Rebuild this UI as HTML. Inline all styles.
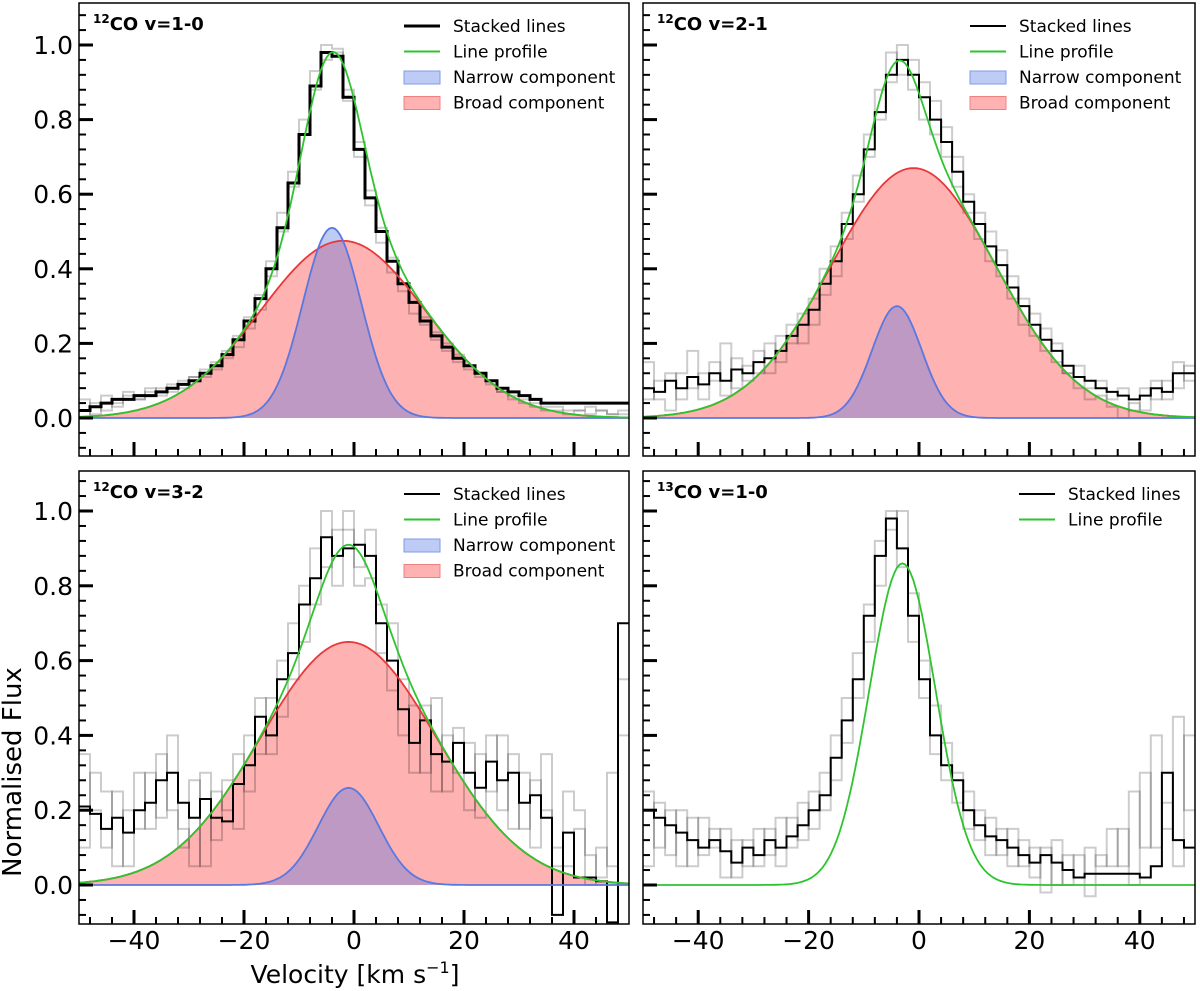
<!DOCTYPE html>
<html><head><meta charset="utf-8">
<style>
html,body{margin:0;padding:0;background:#fff;}
svg{display:block;font-family:"DejaVu Sans","Liberation Sans",sans-serif;}
</style></head>
<body>
<svg id="fig" width="1200" height="991" viewBox="0 0 1200 991" xmlns="http://www.w3.org/2000/svg"></svg>
<script>
const binCenters=[-49,-47,-45,-43,-41,-39,-37,-35,-33,-31,-29,-27,-25,-23,-21,-19,-17,-15,-13,-11,-9,-7,-5,-3,-1,1,3,5,7,9,11,13,15,17,19,21,23,25,27,29,31,33,35,37,39,41,43,45,47,49];
const xTicks=[-40,-20,0,20,40];
const yTicks=[0.0,0.2,0.4,0.6,0.8,1.0];
const stack1=[0.02,0.03,0.04,0.05,0.05,0.06,0.06,0.07,0.08,0.09,0.10,0.12,0.14,0.17,0.21,0.26,0.32,0.40,0.51,0.63,0.76,0.89,0.98,0.97,0.86,0.72,0.59,0.50,0.42,0.36,0.31,0.26,0.22,0.19,0.16,0.14,0.12,0.10,0.08,0.07,0.06,0.05,0.04,0.04,0.04,0.04,0.04,0.04,0.04,0.04];
const grey1a=[0.05,0.01,0.06,0.03,0.07,0.05,0.08,0.06,0.09,0.10,0.11,0.13,0.15,0.18,0.22,0.27,0.33,0.42,0.55,0.66,0.80,0.93,1.00,0.99,0.88,0.74,0.61,0.51,0.43,0.36,0.31,0.27,0.23,0.20,0.17,0.14,0.12,0.09,0.07,0.05,0.04,0.03,0.02,0.02,0.01,0.02,0.01,0.02,0.01,0.01];
const grey1b=[0.00,0.04,0.02,0.04,0.06,0.05,0.07,0.08,0.07,0.08,0.11,0.11,0.13,0.16,0.19,0.24,0.29,0.38,0.50,0.62,0.76,0.88,0.96,0.98,0.85,0.70,0.57,0.47,0.39,0.34,0.28,0.25,0.21,0.18,0.15,0.13,0.11,0.10,0.07,0.06,0.05,0.04,0.03,0.03,0.02,0.02,0.03,0.02,0.01,0.02];
const stack2=[0.08,0.07,0.10,0.08,0.11,0.09,0.12,0.10,0.13,0.12,0.15,0.16,0.18,0.22,0.25,0.29,0.36,0.42,0.52,0.60,0.72,0.82,0.92,0.96,0.92,0.86,0.80,0.74,0.66,0.58,0.52,0.46,0.41,0.35,0.30,0.25,0.21,0.18,0.14,0.11,0.10,0.08,0.07,0.06,0.05,0.06,0.08,0.07,0.12,0.12];
const grey2a=[0.15,0.05,0.02,0.12,0.18,0.05,0.10,0.20,0.08,0.14,0.18,0.12,0.22,0.25,0.20,0.32,0.40,0.38,0.55,0.65,0.70,0.88,0.98,0.92,0.96,0.80,0.85,0.70,0.62,0.60,0.48,0.50,0.38,0.38,0.25,0.28,0.18,0.15,0.12,0.08,0.05,0.06,0.03,0.00,0.04,0.02,0.10,0.05,0.15,0.10];
const grey2b=[0.05,0.10,0.12,0.05,0.08,0.12,0.15,0.06,0.16,0.10,0.12,0.20,0.15,0.20,0.28,0.25,0.33,0.46,0.48,0.58,0.76,0.80,0.90,1.00,0.88,0.90,0.76,0.78,0.70,0.55,0.55,0.42,0.45,0.32,0.32,0.22,0.24,0.20,0.12,0.14,0.08,0.10,0.05,0.08,0.02,0.08,0.05,0.10,0.08,0.14];
const stack3=[0.21,0.19,0.15,0.18,0.14,0.20,0.22,0.28,0.30,0.22,0.18,0.23,0.18,0.17,0.27,0.32,0.45,0.40,0.55,0.62,0.75,0.82,0.93,0.88,0.90,0.91,0.88,0.70,0.60,0.47,0.38,0.44,0.35,0.33,0.38,0.30,0.26,0.33,0.28,0.30,0.22,0.24,0.18,-0.08,0.14,0.02,0.02,0.01,-0.10,0.70];
const grey3a=[0.35,0.20,0.10,0.25,0.05,0.30,0.15,0.35,0.20,0.10,0.28,0.05,0.25,0.20,0.35,0.25,0.50,0.35,0.60,0.55,0.80,0.75,1.00,0.80,0.95,0.85,0.95,0.62,0.70,0.40,0.48,0.30,0.50,0.25,0.42,0.20,0.35,0.25,0.40,0.15,0.30,0.10,0.35,0.05,0.25,0.20,0.00,0.10,0.05,0.40];
const grey3b=[0.10,0.30,0.25,0.05,0.20,0.15,0.30,0.18,0.40,0.15,0.05,0.30,0.12,0.28,0.15,0.40,0.35,0.50,0.45,0.70,0.65,0.90,0.85,0.95,1.00,0.80,0.82,0.75,0.52,0.55,0.30,0.48,0.25,0.40,0.30,0.38,0.18,0.40,0.20,0.35,0.15,0.28,0.20,0.10,0.05,0.15,0.08,0.02,0.30,0.55];
const stack4=[0.20,0.18,0.16,0.14,0.12,0.10,0.12,0.09,0.06,0.10,0.08,0.12,0.10,0.13,0.16,0.20,0.24,0.34,0.44,0.55,0.72,0.88,0.98,0.90,0.72,0.55,0.40,0.32,0.28,0.20,0.16,0.13,0.12,0.10,0.08,0.06,0.08,0.06,0.04,0.02,0.03,0.03,0.03,0.03,0.03,0.02,0.05,0.30,0.12,0.10];
const grey4a=[0.25,0.10,0.20,0.05,0.18,0.08,0.15,0.02,0.12,0.05,0.15,0.08,0.18,0.10,0.22,0.15,0.30,0.28,0.50,0.50,0.75,0.80,1.00,0.85,0.78,0.50,0.48,0.28,0.30,0.15,0.20,0.08,0.15,0.05,0.12,0.02,0.10,0.00,0.08,0.02,0.10,0.05,0.15,0.05,0.25,0.10,0.40,0.15,0.45,0.20];
const grey4b=[0.05,0.22,0.08,0.20,0.05,0.18,0.10,0.15,0.02,0.12,0.05,0.15,0.05,0.18,0.12,0.25,0.20,0.40,0.38,0.62,0.65,0.92,0.95,1.00,0.65,0.60,0.35,0.38,0.22,0.25,0.12,0.18,0.08,0.15,0.05,0.10,-0.02,0.12,0.00,0.08,-0.03,0.08,0.05,0.15,0.00,0.30,0.10,0.22,0.05,0.40];
// Gaussian fit parameters: [amplitude, centre, sigma]
const narrow1=[0.51,-4,5.3], broad1=[0.475,-2,15];
const narrow2=[0.30,-4,4.5], broad2=[0.67,-1,15];
const narrow3=[0.26,-1,5.5], broad3=[0.65,-1,16];
const profile4=[0.86,-3,6.0];

const NS="http://www.w3.org/2000/svg";
const svg=document.getElementById('fig');
function mk(tag,attrs,parent){const e=document.createElementNS(NS,tag);for(const k in attrs)e.setAttribute(k,attrs[k]);(parent||svg).appendChild(e);return e;}
function gauss(p,v){return p[0]*Math.exp(-(v-p[1])*(v-p[1])/(2*p[2]*p[2]));}

const panels=[
 {x0:79,x1:629,y0:3,y1:456,yz:418,yo:45,title:"12",tv:"v=1-0",stack:stack1,greys:[grey1a,grey1b],narrow:narrow1,broad:broad1,lw:3,legend:4,lx:404,ly:26,xlab:false,ylab:true,id:"top-left"},
 {x0:643,x1:1195,y0:3,y1:456,yz:418,yo:45,title:"12",tv:"v=2-1",stack:stack2,greys:[grey2a,grey2b],narrow:narrow2,broad:broad2,lw:2,legend:4,lx:970,ly:26,xlab:false,ylab:false,id:"top-right"},
 {x0:79,x1:629,y0:471,y1:924,yz:885,yo:511,title:"12",tv:"v=3-2",stack:stack3,greys:[grey3a,grey3b],narrow:narrow3,broad:broad3,lw:2,legend:4,lx:404,ly:494,xlab:true,ylab:true,id:"bottom-left"},
 {x0:643,x1:1195,y0:471,y1:924,yz:885,yo:511,title:"13",tv:"v=1-0",stack:stack4,greys:[grey4a,grey4b],profile:profile4,lw:2,legend:2,lx:1019,ly:494,xlab:true,ylab:false,id:"bottom-right"}
];

panels.forEach(P=>{
 const g=mk('g',{});
 
 
 const X=v=>P.x0+(v+50)/100*(P.x1-P.x0);
 const Y=f=>P.yz-f*(P.yz-P.yo);
 const cid='clip-'+P.id;
 const cp=mk('clipPath',{id:cid},g); mk('rect',{x:P.x0,y:P.y0,width:P.x1-P.x0,height:P.y1-P.y0},cp);
 const plot=mk('g',{'clip-path':'url(#'+cid+')'},g);
 function curve(fn){let d='';for(let v=-50;v<=50.01;v+=0.5){d+=(d?'L':'M')+X(v).toFixed(1)+','+Y(fn(v)).toFixed(1);}return d;}
 function fillc(fn){return curve(fn)+'L'+X(50)+','+Y(0)+'L'+X(-50)+','+Y(0)+'Z';}
 if(P.broad){
  const b=mk('path',{d:fillc(v=>gauss(P.broad,v)),fill:'rgba(255,0,0,0.3)',stroke:'none'},plot);
  
  
  const n=mk('path',{d:fillc(v=>gauss(P.narrow,v)),fill:'rgba(65,105,225,0.35)',stroke:'none'},plot);
  
  
 }
 function step(arr){let d='';arr.forEach((f,i)=>{const a=X(binCenters[i]-1),b=X(binCenters[i]+1);d+=(i?'L':'M')+a.toFixed(1)+','+Y(f).toFixed(1)+'L'+b.toFixed(1)+','+Y(f).toFixed(1);});return d;}
 P.greys.forEach(arr=>{
  const e=mk('path',{d:step(arr),fill:'none',stroke:'rgba(0,0,0,0.2)','stroke-width':2},plot);
  
  
 });
 const s=mk('path',{d:step(P.stack),fill:'none',stroke:'#000','stroke-width':P.lw},plot);
 
 
 if(P.broad){
  const be=mk('path',{d:curve(v=>gauss(P.broad,v)),fill:'none',stroke:'#e8383a','stroke-width':1.8},plot);
  
  
  const ne=mk('path',{d:curve(v=>gauss(P.narrow,v)),fill:'none',stroke:'#5a78e0','stroke-width':1.8},plot);
  
  
  const lp=mk('path',{d:curve(v=>gauss(P.broad,v)+gauss(P.narrow,v)),fill:'none',stroke:'#2fc42f','stroke-width':1.8},plot);
  
  
 } else {
  const lp=mk('path',{d:curve(v=>gauss(P.profile,v)),fill:'none',stroke:'#2fc42f','stroke-width':1.8},plot);
  
  
 }
 for(let v=-48;v<=48;v+=4){const maj=xTicks.includes(v);mk('line',{x1:X(v),x2:X(v),y1:P.y1,y2:P.y1-(maj?14:7),stroke:'#000','stroke-width':maj?3:2},g);}
 for(let f=-0.08;f<=1.09;f+=0.04){const r=Math.round(f*100)/100;const maj=yTicks.some(t=>Math.abs(t-r)<1e-6);mk('line',{x1:P.x0,x2:P.x0+(maj?14:7),y1:Y(r),y2:Y(r),stroke:'#000','stroke-width':maj?3:2},g);}
 const fr=mk('rect',{x:P.x0,y:P.y0,width:P.x1-P.x0,height:P.y1-P.y0,fill:'none',stroke:'#000','stroke-width':1.5},g);
 
 
 if(P.xlab){xTicks.forEach(v=>{const t=mk('text',{x:X(v),y:P.y1+25,'text-anchor':'middle','font-size':25},g);t.textContent=(v<0?'\u2212':'')+Math.abs(v);});}
 if(P.ylab){yTicks.forEach(f=>{const t=mk('text',{x:P.x0-6,y:Y(f)+9,'text-anchor':'end','font-size':25},g);t.textContent=f.toFixed(1);});}
 const tt=mk('text',{x:P.x0+14,y:P.y0+27,'font-size':18,'font-weight':'bold'},g);
 
 
 const sup=mk('tspan',{'font-size':12,dy:-7},tt);sup.textContent=P.title;
 const rest=mk('tspan',{dy:7},tt);rest.textContent='CO '+P.tv;
 const labels=['Stacked lines','Line profile','Narrow component','Broad component'];
 for(let i=0;i<P.legend;i++){
  const y=P.ly+i*25.5;
  const lg=mk('g',{},g);
  
  
  if(i==0) mk('line',{x1:P.lx,x2:P.lx+36,y1:y,y2:y,stroke:'#000','stroke-width':P.lw},lg);
  if(i==1) mk('line',{x1:P.lx,x2:P.lx+36,y1:y,y2:y,stroke:'#2fc42f','stroke-width':2},lg);
  if(i==2) mk('rect',{x:P.lx,y:y-6,width:36,height:13,fill:'rgba(65,105,225,0.35)',stroke:'#7f9bea','stroke-width':1},lg);
  if(i==3) mk('rect',{x:P.lx,y:y-6,width:36,height:13,fill:'rgba(255,0,0,0.3)',stroke:'#f08080','stroke-width':1},lg);
  const t=mk('text',{x:P.lx+49,y:y+6,'font-size':17},lg);t.textContent=labels[i];
 }
});
const xl=mk('text',{x:355,y:983,'text-anchor':'middle','font-size':25});


xl.appendChild(document.createTextNode('Velocity [km s'));
const sp=mk('tspan',{'font-size':16,dy:-10},xl);sp.textContent='\u22121';
const sp2=mk('tspan',{dy:10},xl);sp2.textContent=']';
const yl=mk('text',{x:0,y:0,'text-anchor':'middle','font-size':26,transform:'translate(21,772) rotate(-90)'});


yl.textContent='Normalised Flux';
</script>
</body></html>
